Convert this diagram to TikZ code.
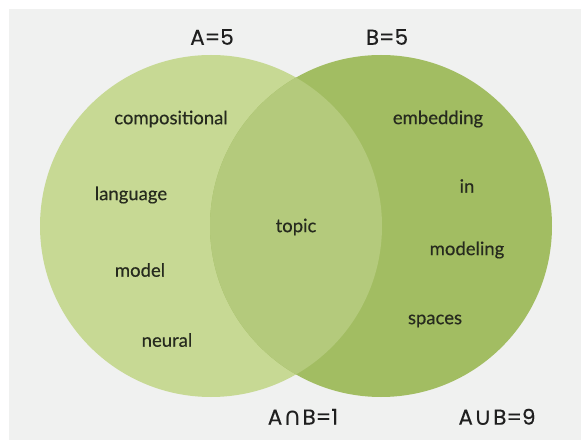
\documentclass[tikz,border=0pt]{standalone}
\usepackage{fontspec}
\setmainfont{Lato}
\newfontfamily\wordfont[FakeBold=0.35]{Lato}
\newfontfamily\labelfont[FakeBold=0.3]{Poppins}
\newfontfamily\symfont{DejaVu Sans}
\definecolor{canvas}{HTML}{F0F1F0}
\definecolor{setA}{HTML}{C7D994}
\definecolor{setB}{HTML}{A2BD62}
\definecolor{setAB}{HTML}{B4CA7C}
\definecolor{ink}{HTML}{262A1E}
\newcommand{\setop}[1]{\hspace{1pt}{\symfont\fontsize{25}{25}\selectfont\raisebox{-0.5pt}{#1}}\hspace{1pt}}
\tikzset{
  word/.style={text=ink, font=\wordfont\fontsize{18.5}{18.5}\selectfont, inner sep=0pt},
  setlabel/.style={text=black!88, font=\labelfont\fontsize{21.5}{21.5}\selectfont, inner sep=0pt}
}
\begin{document}
\begin{tikzpicture}[x=1pt, y=-1pt]
  \useasboundingbox (0,0) rectangle (582,441);
  \fill[white] (0,0) rectangle (582,441);
  \fill[canvas] (9,9) rectangle (581,440);
  % the two sets and their overlap
  \fill[setA] (211,226) circle[radius=171];
  \fill[setB] (381,226) circle[radius=171];
  \begin{scope}
    \clip (211,226) circle[radius=171];
    \fill[setAB] (381,226) circle[radius=171];
  \end{scope}
  % set sizes
  \node[setlabel] (la) at (212,37) {A=5};
  \node[setlabel] (lb) at (387,37) {B=5};
  \node[setlabel] (lab) at (303,417) {A\setop{∩}B=1};
  \node[setlabel] (lu) at (497,417) {A\setop{∪}B=9};
  % members of A only
  \node[word] (w1) at (171,119) {compositional};
  \node[word] (w2) at (131,195) {language};
  \node[word] (w3) at (140,270) {model};
  \node[word] (w4) at (167,340) {neural};
  % shared member
  \node[word] (w5) at (296,227) {topic};
  % members of B only
  \node[word] (w6) at (438,119) {embedding};
  \node[word] (w7) at (467,186) {in};
  \node[word] (w8) at (467,250) {modeling};
  \node[word] (w9) at (435,321) {spaces};
\end{tikzpicture}
\end{document}
